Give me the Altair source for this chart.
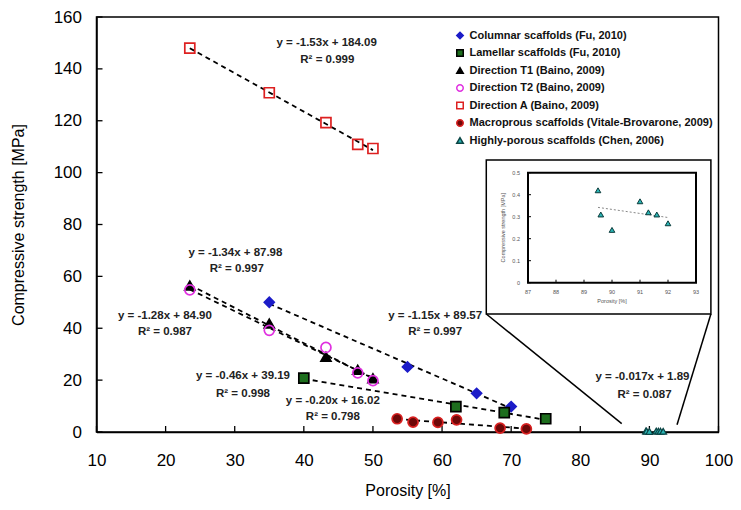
import altair as alt
import pandas as pd

FONT = "Liberation Sans"

# ---------------- data ----------------
series_names = [
    "Columnar scaffolds (Fu, 2010)",
    "Lamellar scaffolds (Fu, 2010)",
    "Direction T1 (Baino, 2009)",
    "Direction T2 (Baino, 2009)",
    "Direction A (Baino, 2009)",
    "Macroprous scaffolds (Vitale-Brovarone, 2009)",
    "Highly-porous scaffolds (Chen, 2006)",
]

columnar_x = [35, 55, 65, 70]
columnar_y = [50.0, 25.1, 14.9, 9.8]
lamellar_x = [40, 62, 69, 75]
lamellar_y = [20.8, 9.8, 7.5, 5.1]
t1_x = [23.5, 35, 43.2, 47.8, 50]
t1_y = [56.5, 41.8, 29.0, 24.0, 20.7]
t2_x = [23.5, 35, 43.2, 47.8, 50]
t2_y = [54.8, 39.2, 32.6, 22.8, 19.8]
dira_x = [23.5, 35, 43.2, 47.8, 50]
dira_y = [148.0, 130.8, 119.3, 110.9, 109.3]
macro_x = [53.5, 55.8, 59.4, 62.1, 68.4, 72.2]
macro_y = [5.1, 3.8, 3.7, 4.7, 1.5, 1.2]
hp_x = [89.5, 89.6, 90.0, 91.0, 91.3, 91.6, 92.0]
hp_y = [0.42, 0.31, 0.24, 0.37, 0.32, 0.31, 0.27]

x_tick_values = [10, 20, 30, 40, 50, 60, 70, 80, 90, 100]
y_tick_values = [0, 20, 40, 60, 80, 100, 120, 140, 160]

eq_lines = [
    "y = -1.53x + 184.09", "R² = 0.999",
    "y = -1.34x + 87.98", "R² = 0.997",
    "y = -1.28x + 84.90", "R² = 0.987",
    "y = -0.46x + 39.19", "R² = 0.998",
    "y = -0.20x + 16.02", "R² = 0.798",
    "y = -1.15x + 89.57", "R² = 0.997",
    "y = -0.017x + 1.89", "R² = 0.087",
]
eq_x = [43.3, 43.4, 30.1, 30.3, 19.9, 19.9, 31.2, 31.2, 44.2, 44.2, 59.0, 59.0, 89.0, 89.3]
eq_y = [150.0, 143.4, 69.0, 62.8, 44.6, 38.5, 21.4, 14.8, 11.8, 5.7, 44.6, 38.6, 21.3, 14.4]

# inset (zoom) box and connector lines, in main-chart units
box_x = [66.4, 98.9]
box_y = [45.5, 104.9]
conn_x = [66.4, 98.9]
conn_y = [45.5, 45.5]
conn_x2 = [86.0, 94.0]
conn_y2 = [3.2, 2.8]

# inset axes
inset_x_ticks = [87, 88, 89, 90, 91, 92, 93]
inset_y_ticks = [0, 0.1, 0.2, 0.3, 0.4, 0.5]
inset_y_labels = ["0", "0.1", "0.2", "0.3", "0.4", "0.5"]

# marker styles
shape_list = ["diamond", "square", "triangle-up", "circle", "square", "circle", "triangle-up"]
fill_list = ["#1c1cc8", "#1d6e1d", "#000000", "transparent", "transparent", "#6e0808", "#2ab4b4"]
stroke_list = ["#1c1cc8", "#000000", "#000000", "#e030e0", "#dd2020", "#d82020", "#0b4444"]

# ---------------- tables ----------------
rows = []
for name, xs, ys in zip(
    series_names,
    [columnar_x, lamellar_x, t1_x, t2_x, dira_x, macro_x, hp_x],
    [columnar_y, lamellar_y, t1_y, t2_y, dira_y, macro_y, hp_y],
):
    for a, b in zip(xs, ys):
        rows.append({"series": name, "porosity": a, "strength": b})
df = pd.DataFrame(rows)
hp_name = series_names[-1]
df_hp = df[df.series == hp_name]
df_main = df[df.series != hp_name]

df_eq = pd.DataFrame({"t": eq_lines, "x": eq_x, "y": eq_y})
df_box = pd.DataFrame({"x": [box_x[0]], "x2": [box_x[1]], "y": [box_y[0]], "y2": [box_y[1]]})
df_conn = pd.DataFrame({"x": conn_x, "y": conn_y, "x2": conn_x2, "y2": conn_y2})
df_xt = pd.DataFrame({"v": x_tick_values})
df_yt = pd.DataFrame({"v": y_tick_values})

W, H = 622, 415

x_axis = alt.Axis(values=x_tick_values, title="Porosity [%]", grid=False, tickSize=0,
                  labelPadding=20, titlePadding=14, labelFontSize=17, titleFontSize=16,
                  labelColor="black", titleColor="black", domainColor="black", domainWidth=1.5,
                  labelFont=FONT, titleFont=FONT, titleFontWeight="normal",
                  labelFlush=False, labelOverlap=False)
y_axis = alt.Axis(values=y_tick_values, title="Compressive strength [MPa]", grid=False, tickSize=0,
                  labelPadding=15, titlePadding=27, labelFontSize=17, titleFontSize=16,
                  labelColor="black", titleColor="black", domainColor="black", domainWidth=1.5,
                  labelFont=FONT, titleFont=FONT, titleFontWeight="normal",
                  labelFlush=False, labelOverlap=False)


def xenc(field):
    return alt.X(field, type="quantitative",
                 scale=alt.Scale(domain=[10, 100], nice=False, zero=False), axis=x_axis)


def yenc(field):
    return alt.Y(field, type="quantitative",
                 scale=alt.Scale(domain=[0, 160], nice=False, zero=False), axis=y_axis)


leg = alt.Legend(title=None, orient="none", legendX=358, legendY=13, padding=0,
                 symbolSize=42, symbolStrokeWidth=1.5, labelFontSize=11, labelFont=FONT,
                 labelFontWeight="bold", labelColor="#111", rowPadding=4.5, labelOffset=4,
                 labelLimit=500)

shape_enc = alt.Shape("series:N", scale=alt.Scale(domain=series_names, range=shape_list), legend=leg)
fill_enc = alt.Fill("series:N", scale=alt.Scale(domain=series_names, range=fill_list), legend=leg)
stroke_enc = alt.Stroke("series:N", scale=alt.Scale(domain=series_names, range=stroke_list), legend=leg)

trend = alt.Chart(df).transform_regression(
    "porosity", "strength", groupby=["series"]
).mark_line(color="black", strokeDash=[5, 4], strokeWidth=1.8).encode(
    x=xenc("porosity"), y=yenc("strength"), detail="series:N"
)

box = alt.Chart(df_box).mark_rect(fill="white", stroke="black", strokeWidth=1.5).encode(
    x=xenc("x"), x2="x2", y=yenc("y"), y2="y2"
)
conn = alt.Chart(df_conn).mark_rule(color="black", strokeWidth=1.5).encode(
    x=xenc("x"), x2="x2", y=yenc("y"), y2="y2"
)
xt = alt.Chart(df_xt).mark_rule(color="black", strokeWidth=1.3).encode(
    x=xenc("v"), y=alt.value(H), y2=alt.value(H - 6)
)
yt = alt.Chart(df_yt).mark_rule(color="black", strokeWidth=1.3).encode(
    y=yenc("v"), x=alt.value(0), x2=alt.value(6)
)

pts = alt.Chart(df_main).mark_point(filled=True, opacity=1, size=100, strokeWidth=1.7).encode(
    x=xenc("porosity"), y=yenc("strength"), shape=shape_enc, fill=fill_enc, stroke=stroke_enc
)
pts_hp = alt.Chart(df_hp).mark_point(filled=True, opacity=1, size=45, strokeWidth=1.2).encode(
    x=xenc("porosity"), y=yenc("strength"), shape=shape_enc, fill=fill_enc, stroke=stroke_enc
)

eq_text = alt.Chart(df_eq).mark_text(font=FONT, fontSize=11.5, fontWeight="bold",
                                     color="#222", align="center", baseline="middle").encode(
    x=xenc("x"), y=yenc("y"), text="t:N"
)

main = alt.layer(trend, box, conn, xt, yt, pts, pts_hp, eq_text)

# ---------------- inset ----------------
IX0, IX1 = 431.5, 599.5
IY0, IY1 = 265.7, 155.7


def ix(field):
    return alt.X(field, type="quantitative",
                 scale=alt.Scale(domain=[87, 93], range=[IX0, IX1], nice=False, zero=False), axis=None)


def iy(field):
    return alt.Y(field, type="quantitative",
                 scale=alt.Scale(domain=[0, 0.5], range=[IY0, IY1], nice=False, zero=False), axis=None)


df_iframe = pd.DataFrame({"x": [inset_x_ticks[0]], "x2": [inset_x_ticks[-1]],
                          "y": [inset_y_ticks[0]], "y2": [inset_y_ticks[-1]]})
df_ixt = pd.DataFrame({"v": inset_x_ticks, "lab": [str(v) for v in inset_x_ticks]})
df_iyt = pd.DataFrame({"v": inset_y_ticks, "lab": inset_y_labels})

iframe = alt.Chart(df_iframe).mark_rect(fill="white", stroke="black", strokeWidth=2).encode(
    x=ix("x"), x2="x2", y=iy("y"), y2="y2"
)
ixticks = alt.Chart(df_ixt).mark_rule(color="black", strokeWidth=1).encode(
    x=ix("v"), y=alt.value(IY0), y2=alt.value(IY0 - 3)
)
iyticks = alt.Chart(df_iyt).mark_rule(color="black", strokeWidth=1).encode(
    y=iy("v"), x=alt.value(IX0), x2=alt.value(IX0 + 3)
)
ixlab = alt.Chart(df_ixt).mark_text(font=FONT, fontSize=5.5, color="#555", baseline="middle").encode(
    x=ix("v"), y=alt.value(IY0 + 9), text="lab:N"
)
iylab = alt.Chart(df_iyt).mark_text(font=FONT, fontSize=5.5, color="#555", align="right",
                                    baseline="middle").encode(
    y=iy("v"), x=alt.value(IX0 - 8), text="lab:N"
)
ititle_x = alt.Chart(pd.DataFrame({"t": ["Porosity [%]"]})).mark_text(
    font=FONT, fontSize=5.5, color="#555").encode(
    x=alt.value((IX0 + IX1) / 2), y=alt.value(IY0 + 18), text="t:N"
)
ititle_y = alt.Chart(pd.DataFrame({"t": ["Compressive strength [MPa]"]})).mark_text(
    font=FONT, fontSize=5.5, color="#555", angle=270).encode(
    x=alt.value(IX0 - 25), y=alt.value((IY0 + IY1) / 2), text="t:N"
)
itrend = alt.Chart(df_hp).transform_regression("porosity", "strength").mark_line(
    color="#888", strokeDash=[2, 2], strokeWidth=1).encode(
    x=ix("porosity"), y=iy("strength")
)
ipts = alt.Chart(df_hp).mark_point(shape="triangle-up", filled=True, fill="#2ab4b4", stroke="#0b3a3a",
                                   strokeWidth=1, size=32, opacity=1).encode(
    x=ix("porosity"), y=iy("strength")
)

inset = alt.layer(iframe, ixticks, iyticks, ixlab, iylab, ititle_x, ititle_y, itrend, ipts)

chart = alt.layer(main, inset).resolve_scale(x="independent", y="independent").properties(
    width=W, height=H,
    padding={"left": 88.5, "top": 9, "right": 14.5, "bottom": 68},
    autosize=alt.AutoSizeParams(type="none"),
).configure_view(stroke="black", strokeWidth=1.5)

chart.save("out.html", embed_options={"renderer": "svg", "actions": False})
